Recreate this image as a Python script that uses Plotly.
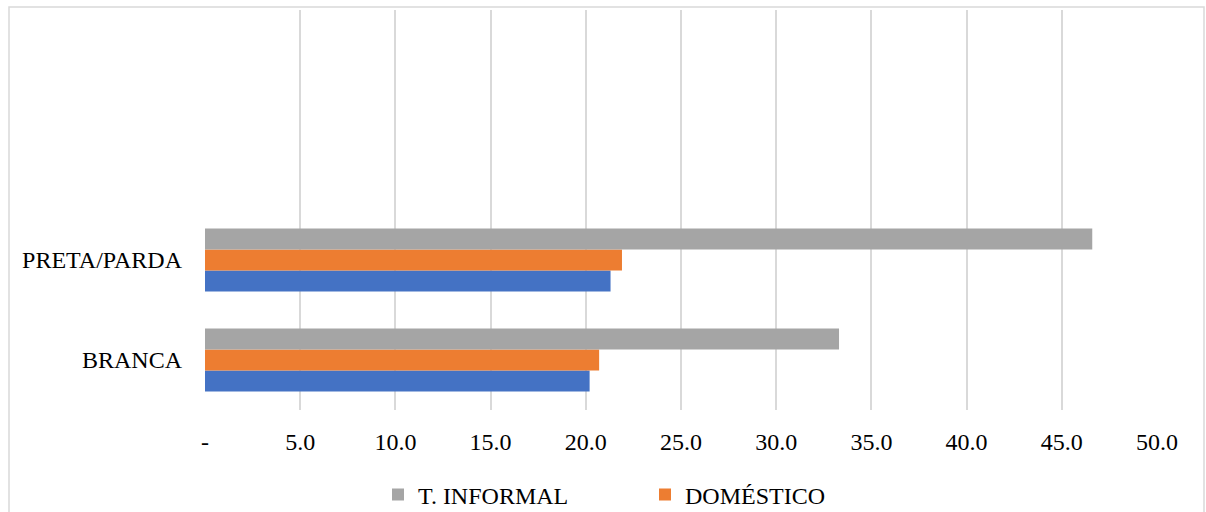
import plotly.graph_objects as go

categories = ["BRANCA", "PRETA/PARDA"]
blue_values = [20.2, 21.3]
domestico_values = [20.7, 21.9]
informal_values = [33.3, 46.6]
tick_vals = [0, 5, 10, 15, 20, 25, 30, 35, 40, 45, 50]
tick_text = ["-", "5.0", "10.0", "15.0", "20.0", "25.0", "30.0", "35.0", "40.0", "45.0", "50.0"]

W, H = 1206, 512
L, R, T, B = 205, 49, 10, 102
pw, ph = W - L - R, H - T - B
SERIF = "Liberation Serif, Times New Roman, DejaVu Serif, serif"

fig = go.Figure()
fig.add_trace(go.Bar(y=categories, x=blue_values, orientation="h", name="TOTAL",
                     marker=dict(color="#4472C4", line=dict(width=0)), showlegend=False))
fig.add_trace(go.Bar(y=categories, x=domestico_values, orientation="h", name="DOMÉSTICO",
                     marker=dict(color="#ED7D31", line=dict(width=0))))
fig.add_trace(go.Bar(y=categories, x=informal_values, orientation="h", name="T. INFORMAL",
                     marker=dict(color="#A5A5A5", line=dict(width=0))))

fig.update_layout(
    width=W, height=H,
    margin=dict(l=L, r=R, t=T, b=B, autoexpand=False),
    paper_bgcolor="white", plot_bgcolor="white",
    barmode="group", bargap=0.37, bargroupgap=0,
    font=dict(family=SERIF, size=24, color="black"),
    xaxis=dict(range=[0, 50], tickvals=tick_vals, ticktext=tick_text,
               showgrid=True, gridcolor="#d9d9d9", gridwidth=2,
               zeroline=False, showline=False, ticks="", ticklabelstandoff=15,
               automargin=False, fixedrange=True),
    yaxis=dict(type="category", categoryorder="array", categoryarray=categories,
               range=[-0.5, 3.5], showgrid=False, zeroline=False, showline=False,
               ticks="", ticklabelstandoff=22, automargin=False, fixedrange=True),
    legend=dict(orientation="h", traceorder="reversed",
                x=(378 - L) / pw, xanchor="left",
                y=(T + ph - 495) / ph, yanchor="middle",
                entrywidth=222, entrywidthmode="pixels",
                font=dict(family=SERIF, size=24), bgcolor="rgba(0,0,0,0)"),
    shapes=[dict(type="rect", xref="paper", yref="paper",
                 x0=(9 - L) / pw, x1=(1204 - L) / pw,
                 y0=(T + ph - 530) / ph, y1=(T + ph - 7) / ph,
                 line=dict(color="#d9d9d9", width=1.5), fillcolor="rgba(0,0,0,0)",
                 layer="below")],
)

fig.write_html("out.html")
